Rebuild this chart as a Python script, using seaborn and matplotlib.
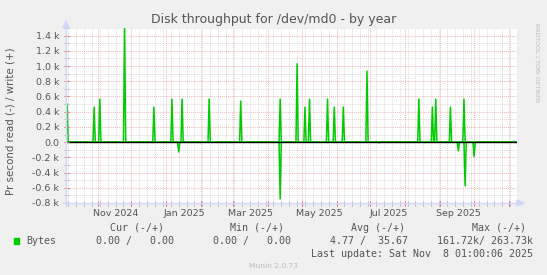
import numpy as np
import pandas as pd
import matplotlib
matplotlib.use("Agg")
import matplotlib.pyplot as plt
import matplotlib.transforms as mtransforms
from matplotlib.patches import Rectangle, Polygon
from matplotlib.lines import Line2D
import seaborn as sns

# ---------------- data ----------------
write_dates = ["2024-10-05", "2024-10-29", "2024-11-03", "2024-11-25", "2024-12-21",
               "2025-01-06", "2025-01-15", "2025-02-08", "2025-03-08", "2025-04-12",
               "2025-04-27", "2025-05-04", "2025-05-08", "2025-05-24", "2025-05-30",
               "2025-06-07", "2025-06-28", "2025-08-13", "2025-08-25", "2025-08-28",
               "2025-09-10", "2025-09-22"]
write_vals = [500, 460, 566, 1500, 460,
              566, 566, 566, 540, 566,
              1030, 460, 566, 566, 460,
              460, 934, 566, 460, 566,
              460, 566]
read_dates = ["2025-01-12", "2025-04-12", "2025-07-09", "2025-09-17", "2025-09-23", "2025-10-01"]
read_vals = [130, 746, 10, 114, 575, 190]

y_ticks = [-800, -600, -400, -200, 0, 200, 400, 600, 800, 1000, 1200, 1400]
y_tick_labels = ["-0.8 k", "-0.6 k", "-0.4 k", "-0.2 k", "0.0", "0.2 k", "0.4 k",
                 "0.6 k", "0.8 k", "1.0 k", "1.2 k", "1.4 k"]
x_label_dates = ["2024-11-17", "2025-01-17", "2025-03-17", "2025-05-17", "2025-07-17", "2025-09-17"]
x_labels = ["Nov 2024", "Jan 2025", "Mar 2025", "May 2025", "Jul 2025", "Sep 2025"]

legend_headers = ["Cur (-/+)", "Min (-/+)", "Avg (-/+)", "Max (-/+)"]
legend_values = ["0.00 /   0.00", "0.00 /   0.00", "4.77 /  35.67", "161.72k/ 263.73k"]
series_name = "Bytes"
title = "Disk throughput for /dev/md0 - by year"
ylabel = "Pr second read (-) / write (+)"
last_update = "Last update: Sat Nov  8 01:00:06 2025"

# ---------------- build frame ----------------
days = pd.date_range("2024-10-04", "2025-11-08", freq="D")
write = pd.Series(0.0, index=days)
write[pd.to_datetime(write_dates)] = write_vals
read = pd.Series(0.0, index=days)
read[pd.to_datetime(read_dates)] = read_vals
df = pd.DataFrame({"date": days, "write": write.values, "read": -read.values})

sns.set_theme(style="white")
plt.rcParams["font.family"] = ["DejaVu Sans"]

W, H = 547, 275
fig = plt.figure(figsize=(W / 100, H / 100), dpi=100, facecolor="#F0F0F0")
L, R, T, B = 66, 517, 28, 203
ax = fig.add_axes([L / W, 1 - B / H, (R - L) / W, (B - T) / H])
ax.set_facecolor("white")

xstart = pd.Timestamp("2024-10-04 01:00")
xend = pd.Timestamp("2025-11-08 01:00")
ax.set_xlim(xstart, xend)
ax.set_ylim(-800, 1500)

# grid
minor_c = (0.56, 0.56, 0.56, 0.30)
major_c = (0.87, 0.31, 0.31, 0.40)
month_starts = pd.date_range("2024-11-01", "2025-11-01", freq="MS")
sundays = [d for d in pd.date_range("2024-10-06", "2025-11-08", freq="W-SUN") if d.day != 1]
for d in sundays:
    ax.axvline(d, color=minor_c, lw=0.7, ls=(0, (1, 1)), zorder=1)
for d in month_starts:
    ax.axvline(d, color=major_c, lw=0.7, ls=(0, (1, 1)), zorder=1)
for y in range(-800, 1501, 100):
    if y == 0:
        continue
    c = major_c if y % 200 == 0 else minor_c
    ax.axhline(y, color=c, lw=0.7, ls=(0, (1, 1)), zorder=1)

# data
green = "#00CC00"
sns.lineplot(data=df, x="date", y="write", ax=ax, color=green, lw=1.1, zorder=3)
sns.lineplot(data=df, x="date", y="read", ax=ax, color=green, lw=1.1, zorder=3)
ax.axhline(0, color="black", lw=1.0, zorder=4)

# ticks
ax.set_yticks(y_ticks, y_tick_labels)
ax.set_xticks(pd.to_datetime(x_label_dates), x_labels)
ax.tick_params(axis="x", length=0, pad=4.5, labelsize=6.8, labelcolor="#555555")
ax.tick_params(axis="y", length=0, pad=5, labelsize=6.8, labelcolor="#555555")
ax.set_xlabel("")
ax.set_ylabel("")
for s in ax.spines.values():
    s.set_visible(False)

# small axis tick marks
tb = mtransforms.blended_transform_factory(ax.transData, ax.transAxes)
dy = 2.5 / (B - T)
for d in sundays:
    ax.plot([d, d], [-dy, dy], color="#B8B8B8", lw=0.6, transform=tb, clip_on=False, zorder=5)
for d in month_starts:
    ax.plot([d, d], [-dy, dy], color="#E07070", lw=0.7, transform=tb, clip_on=False, zorder=5)
tl = mtransforms.blended_transform_factory(ax.transAxes, ax.transData)
dx = 2.5 / (R - L)
for y in range(-800, 1501, 100):
    c = "#E07070" if y % 200 == 0 else "#B8B8B8"
    ax.plot([-dx, dx], [y, y], color=c, lw=0.6, transform=tl, clip_on=False, zorder=5)

# axes lines with arrows (pixel coordinates in figure)
def fx(x):
    return x / W

def fy(y):
    return 1 - y / H

axis_c = "#CFD6F8"
fig.add_artist(Line2D([fx(L), fx(L)], [fy(206), fy(25)], color=axis_c, lw=1.0))
fig.add_artist(Line2D([fx(62), fx(519)], [fy(B), fy(B)], color=axis_c, lw=1.0))
fig.add_artist(Polygon([[fx(L - 3), fy(28)], [fx(L + 3), fy(28)], [fx(L), fy(21)]], closed=True,
                       color=axis_c, transform=fig.transFigure))
fig.add_artist(Polygon([[fx(517), fy(B - 3)], [fx(517), fy(B + 3)], [fx(524), fy(B)]], closed=True,
                       color=axis_c, transform=fig.transFigure))

# texts
txt_c = "#555555"
fig.text(fx(273.5), fy(20), title, ha="center", va="center", fontsize=9.0, color=txt_c)
fig.text(fx(11), fy(121), ylabel, ha="center", va="center", rotation=90, fontsize=7.4, color=txt_c)
fig.text(fx(537), fy(63), "RRDTOOL / TOBI OETIKER", ha="center", va="center", rotation=270,
         fontsize=4.4, color="#BBBBBB")

mono = "DejaVu Sans Mono"
header_right = [164, 284, 405, 526]
value_right = [173.5, 291.4, 408.3, 533]
for h, xr in zip(legend_headers, header_right):
    fig.text(fx(xr), fy(228), h, ha="right", va="center", fontsize=7.2, family=mono, color=txt_c)
for v, xr in zip(legend_values, value_right):
    fig.text(fx(xr), fy(241), v, ha="right", va="center", fontsize=7.2, family=mono, color=txt_c)
fig.add_artist(Rectangle((fx(14), fy(244)), 5 / W, 6 / H, color=green, transform=fig.transFigure))
fig.text(fx(26), fy(241), series_name, ha="left", va="center", fontsize=7.2, family=mono, color=txt_c)
fig.text(fx(533), fy(254), last_update, ha="right", va="center", fontsize=7.2, family=mono, color=txt_c)
fig.text(fx(273), fy(266), "Munin 2.0.73", ha="center", va="center", fontsize=5.4, color="#BBBBBB")

fig.savefig("out.png", dpi=100, facecolor=fig.get_facecolor())
